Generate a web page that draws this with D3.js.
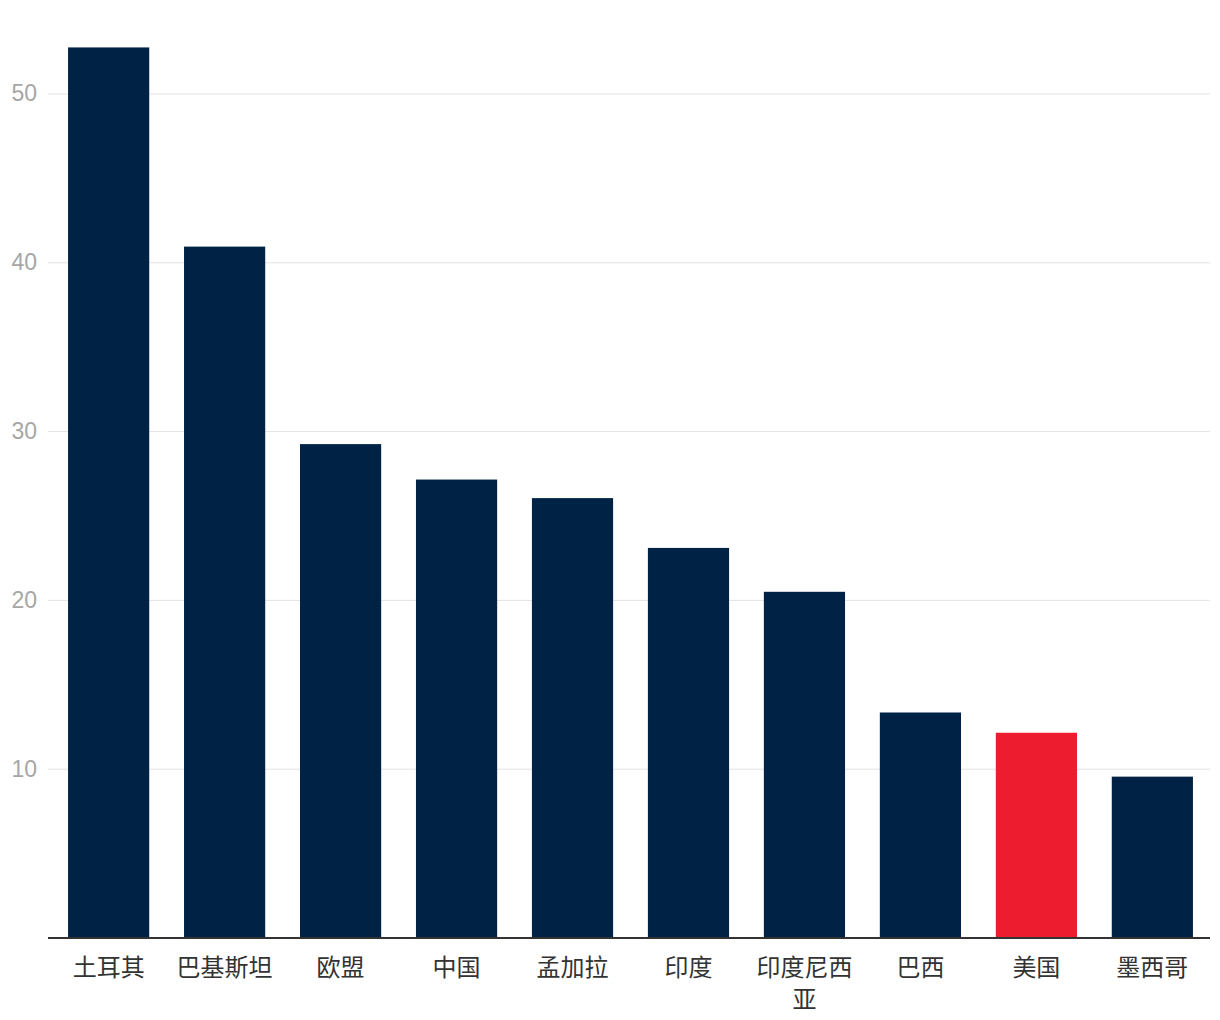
<!DOCTYPE html>
<html lang="zh">
  <head>
    <meta charset="UTF-8" />
    <title>Bar chart</title>
    <script src="https://d3js.org/d3.v7.min.js"></script>
    <style>
      body {
        margin: 0;
        background: #fff;
      }
      .ytick text {
        font-family: "Liberation Sans", Arial, sans-serif;
        font-size: 23px;
        fill: #a6a6a6;
      }
      .xlabel {
        font-family: "Noto Sans CJK SC", sans-serif;
        font-size: 24px;
        fill: #333;
      }
    </style>
  </head>
  <body>
    <script>
      const countries = ["土耳其", "巴基斯坦", "欧盟", "中国", "孟加拉", "印度", "印度尼西亚", "巴西", "美国", "墨西哥"];
      const values = [52.7, 40.9, 29.2, 27.1, 26.0, 23.05, 20.45, 13.3, 12.1, 9.5];
      const highlight = ["美国"];
      const yTicks = [10, 20, 30, 40, 50];

      const width = 1220;
      const height = 1020;
      const left = 48, right = 1210, bottom = 937;

      const svg = d3
        .select("body")
        .append("svg")
        .attr("width", width)
        .attr("height", height);

      const x = d3
        .scaleBand()
        .domain(countries)
        .range([left + 1.5, right + 1.5])
        .paddingInner(0.3)
        .paddingOuter(0.16);

      const y = d3
        .scaleLinear()
        .domain([0, 50])
        .range([bottom, 93]);

      // grid lines + y labels
      const yAxis = svg
        .append("g")
        .attr("transform", "translate(" + left + ",0.5)")
        .call(
          d3.axisLeft(y)
            .tickValues(yTicks)
            .tickSize(-(right - left))
            .tickPadding(11)
        );
      yAxis.select(".domain").remove();
      yAxis.selectAll(".tick").attr("class", "tick ytick");
      yAxis.selectAll(".tick line").attr("stroke", "#e3e3e3").attr("stroke-width", 1);
      yAxis.selectAll(".tick text").attr("font-family", null).attr("font-size", null);

      svg
        .append("g")
        .selectAll("rect")
        .data(countries)
        .join("rect")
        .attr("x", (d) => x(d))
        .attr("width", x.bandwidth())
        .attr("y", (d, i) => y(values[i]))
        .attr("height", (d, i) => bottom - y(values[i]))
        .attr("fill", (d) => (highlight.includes(d) ? "#ed1c2e" : "#002244"));

      // baseline
      svg
        .append("line")
        .attr("x1", left)
        .attr("x2", right)
        .attr("y1", bottom + 1)
        .attr("y2", bottom + 1)
        .attr("stroke", "#333")
        .attr("stroke-width", 2);

      // category labels, wrapped when wider than the slot
      const maxW = 100;
      const labels = svg
        .append("g")
        .selectAll("text")
        .data(countries)
        .join("text")
        .attr("class", "xlabel")
        .attr("text-anchor", "middle")
        .attr("x", (d) => x(d) + x.bandwidth() / 2)
        .attr("y", 976);

      labels.each(function (d) {
        const el = d3.select(this);
        const chars = Array.from(d);
        let line = "";
        let tspan = el.append("tspan").attr("x", el.attr("x")).attr("dy", 0);
        chars.forEach((c) => {
          tspan.text(line + c);
          if (tspan.node().getComputedTextLength() > maxW && line.length) {
            tspan.text(line);
            line = c;
            tspan = el.append("tspan").attr("x", el.attr("x")).attr("dy", 32).text(c);
          } else {
            line += c;
          }
        });
      });
    </script>
  </body>
</html>
